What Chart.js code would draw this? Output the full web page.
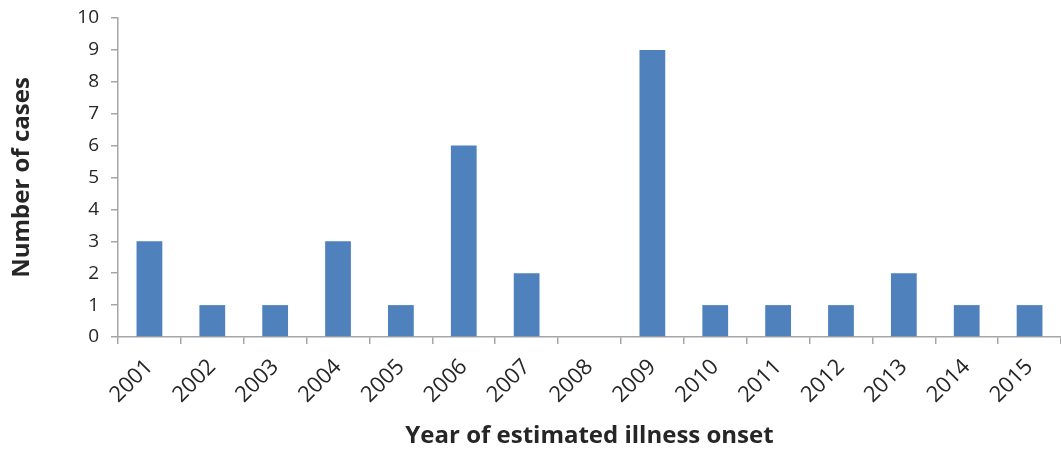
<!DOCTYPE html>
<html>
<head>
<meta charset="utf-8">
<script src="https://cdn.jsdelivr.net/npm/chart.js@4"></script>
<style>
  html, body { margin: 0; padding: 0; background: #fff; }
  #wrap { width: 1061px; height: 455px; position: relative; }
</style>
</head>
<body>
<div id="wrap"><canvas id="casesChart"></canvas></div>
<script>
// Données
const years = ['2001', '2002', '2003', '2004', '2005', '2006', '2007', '2008',
               '2009', '2010', '2011', '2012', '2013', '2014', '2015'];
const cases = [3, 1, 1, 3, 1, 6, 2, 0, 9, 1, 1, 1, 2, 1, 1];
const yTicks = [0, 1, 2, 3, 4, 5, 6, 7, 8, 9, 10];

const axisGrey = '#A6A6A6';
const textColor = '#262626';
const fontFamily = '"Open Sans", "Liberation Sans", sans-serif';

new Chart(document.getElementById('casesChart').getContext('2d'), {
    type: 'bar',
    data: {
        labels: years,
        datasets: [{
            label: 'Number of cases',
            data: cases,
            backgroundColor: '#4F81BD',
            borderWidth: 0,
            barPercentage: 0.41,
            categoryPercentage: 1.0
        }]
    },
    options: {
        responsive: true,
        maintainAspectRatio: false,
        animation: false,
        layout: { padding: { top: 18, right: 0, bottom: 0, left: 0 } },
        plugins: {
            legend: { display: false },
            tooltip: { enabled: false }
        },
        scales: {
            x: {
                afterFit: axis => { axis.height = 118; },
                grid: { drawOnChartArea: false, color: axisGrey, tickLength: 7, lineWidth: 1.5 },
                border: { color: axisGrey, width: 1.5 },
                ticks: {
                    color: textColor,
                    font: { family: fontFamily, size: 22 },
                    minRotation: 45,
                    maxRotation: 45,
                    padding: 10
                },
                title: {
                    display: true,
                    text: 'Year of estimated illness onset',
                    color: textColor,
                    font: { family: fontFamily, size: 24, weight: 'bold' },
                    padding: { top: 0, bottom: 4 }
                }
            },
            y: {
                min: 0,
                max: 10,
                afterFit: axis => {
                    axis.width = 118;
                    axis.paddingTop = 0;
                    axis.paddingBottom = 0;
                },
                afterBuildTicks: axis => { axis.ticks = yTicks.map(v => ({ value: v })); },
                grid: { drawOnChartArea: false, color: axisGrey, tickLength: 7, lineWidth: 1.5 },
                border: { color: axisGrey, width: 1.5 },
                ticks: {
                    color: textColor,
                    font: { family: fontFamily, size: 19 },
                    padding: 12
                },
                title: {
                    display: true,
                    text: 'Number of cases',
                    color: textColor,
                    font: { family: fontFamily, size: 24, weight: 'bold' },
                    padding: { top: 8, bottom: 0 }
                }
            }
        }
    }
});
</script>
</body>
</html>
